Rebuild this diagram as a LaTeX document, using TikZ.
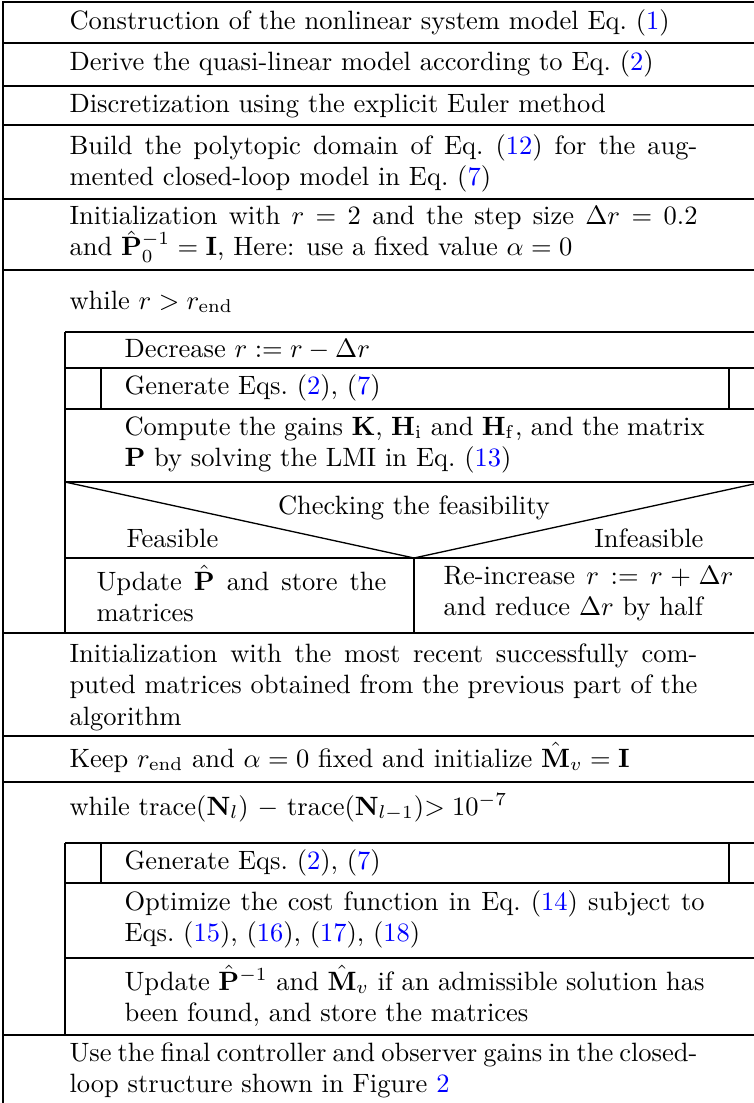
\documentclass[tikz,border=0pt]{standalone}
\usepackage{amsmath}
\usepackage{xcolor}
\newcommand{\bl}[1]{\textcolor{blue}{#1}}
\begin{document}
\begin{tikzpicture}[x=0.37736pt,y=-0.37736pt,
  ln/.style={line width=0.5pt,black},
  outer/.style={anchor=base west,inner sep=0pt,text width=236.98pt,align=justify},
  inner/.style={anchor=base west,inner sep=0pt,text width=218.9pt,align=justify},
  col/.style={anchor=base west,inner sep=0pt,text width=109.4pt,align=justify},
  lbl/.style={anchor=base,inner sep=0pt}]
\useasboundingbox (0,0) rectangle (754,1103);
\clip (0,0) rectangle (754,1103);
% ---------- outer frame ----------
\draw[ln] (3,1110) -- (3,2) -- (770,2);
\foreach \yy in {43,86,125,199,270,633,736,782,1035}
  \draw[ln] (3,\yy) -- (770,\yy);
% ---------- first loop body ----------
\draw[ln] (65,332) -- (770,332);
\foreach \yy in {368,409,482,558}
  \draw[ln] (65,\yy) -- (770,\yy);
\draw[ln] (65,332) -- (65,633);
\draw[ln] (101,368) -- (101,409);
\draw[ln] (729,368) -- (729,409);
\draw[ln] (65,482) -- (414,558) -- (763,482);
\draw[ln] (414,558) -- (414,633);
% ---------- second loop body ----------
\draw[ln] (65,843) -- (770,843);
\foreach \yy in {883,958}
  \draw[ln] (65,\yy) -- (770,\yy);
\draw[ln] (65,843) -- (65,1035);
\draw[ln] (101,843) -- (101,883);
\draw[ln] (729,843) -- (729,883);
% ---------- texts ----------
\node[outer] (t1) at (69,29) {Construction of the nonlinear system model Eq.~(\bl{1})};
\node[outer] (t2) at (69,70) {Derive the quasi-linear model according to Eq.~(\bl{2})};
\node[outer] (t3) at (69,112) {Discretization using the explicit Euler method};
\node[outer] (t4) at (69,154) {Build the polytopic domain of Eq.~(\bl{12}) for the aug-\linebreak mented closed-loop model in Eq.~(\bl{7})};
\node[outer] (t5) at (69,224) {Initialization with $r = 2$ and the step size $\Delta r = 0.2$\linebreak and $\hat{\mathbf{P}}_0^{-1} = \mathbf{I}$, Here: use a fixed value $\alpha = 0$};
\node[outer] (w1) at (69,309) {while $r > r_{\mathrm{end}}$};
\node[inner] (d1) at (124,357) {Decrease $r := r - \Delta r$};
\node[inner] (g1) at (124,394) {Generate Eqs.~(\bl{2}), (\bl{7})};
\node[inner] (c1) at (124,435) {Compute the gains $\mathbf{K}$, $\mathbf{H}_\mathrm{i}$ and $\mathbf{H}_\mathrm{f}$, and the matrix\linebreak $\mathbf{P}$ by solving the LMI in Eq.~(\bl{13})};
\node[lbl] (ck) at (414,514) {Checking the feasibility};
\node[anchor=base west,inner sep=0pt] (fe) at (126,547) {Feasible};
\node[anchor=base east,inner sep=0pt] (inf) at (704,547) {Infeasible};
\node[col] (up1) at (96,590) {Update $\hat{\mathbf{P}}$ and store the\linebreak matrices};
\node[col] (re1) at (443,584) {Re-increase $r := r + \Delta r$\linebreak and reduce $\Delta r$ by half};
\node[outer] (i2) at (69,662) {Initialization with the most recent successfully com-\linebreak puted matrices obtained from the previous part of the\linebreak algorithm};
\node[outer] (k2) at (69,767) {Keep $r_{\mathrm{end}}$ and $\alpha = 0$ fixed and initialize $\hat{\mathbf{M}}_v = \mathbf{I}$};
\node[outer] (w2) at (69,815) {while trace($\mathbf{N}_l$) $-$ trace($\mathbf{N}_{l-1}$)$> 10^{-7}$};
\node[inner] (g2) at (124,869) {Generate Eqs.~(\bl{2}), (\bl{7})};
\node[inner] (o2) at (124,910) {Optimize the cost function in Eq.~(\bl{14}) subject to\linebreak Eqs.~(\bl{15}), (\bl{16}), (\bl{17}), (\bl{18})};
\node[inner] (u2) at (124,990) {Update $\hat{\mathbf{P}}^{-1}$ and $\hat{\mathbf{M}}_v$ if an admissible solution has\linebreak been found, and store the matrices};
\node[outer] (us) at (69,1061) {Use the final controller and observer gains in the closed-\linebreak loop structure shown in Figure~\bl{2}};
\end{tikzpicture}
\end{document}
